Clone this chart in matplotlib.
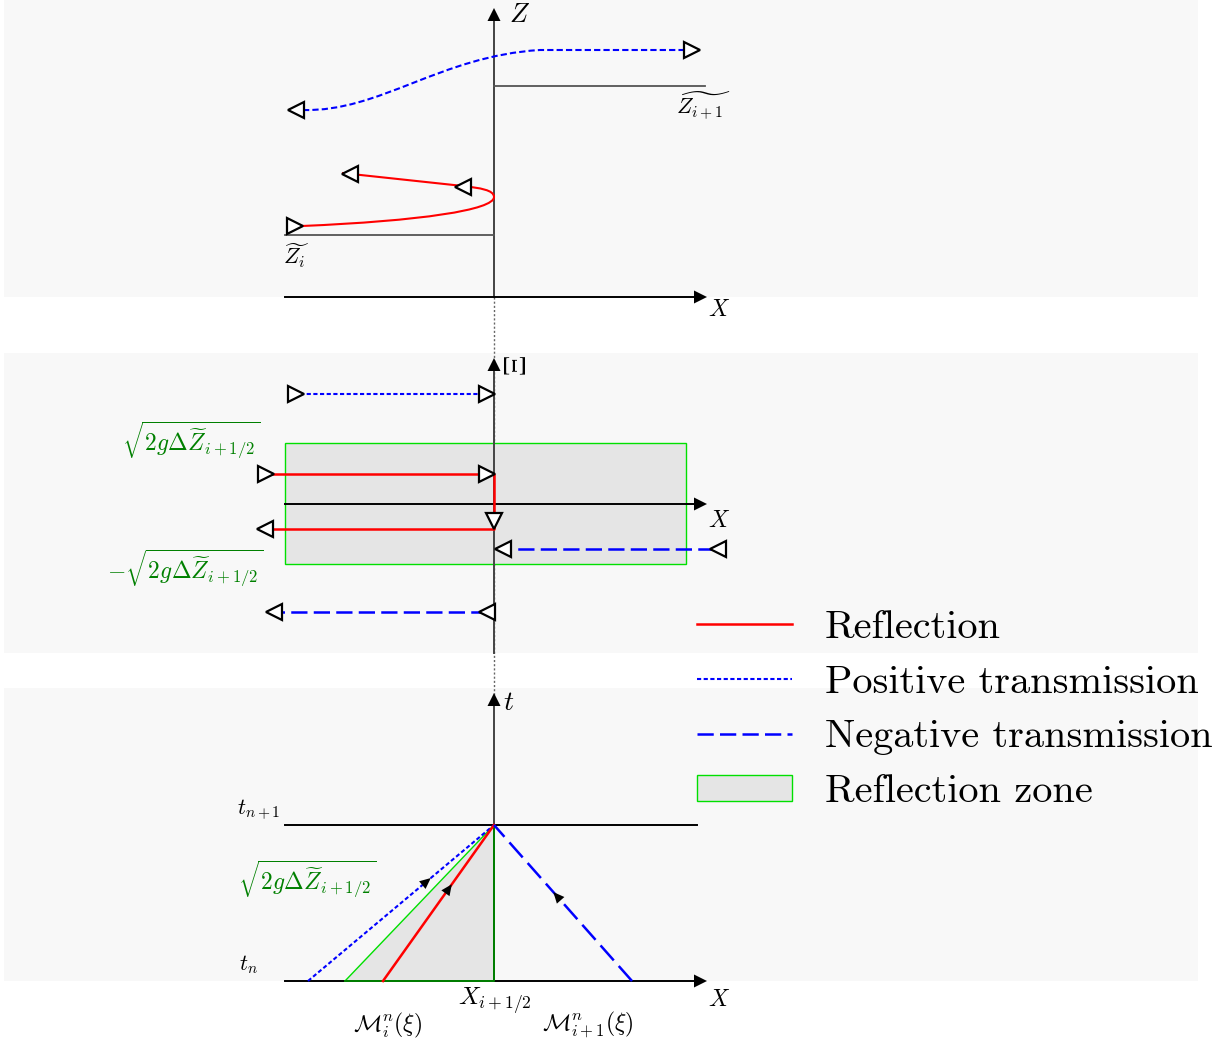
import numpy as np
import matplotlib
matplotlib.use('Agg')
import matplotlib.pyplot as plt
from matplotlib.lines import Line2D
from matplotlib.patches import Patch, Rectangle, Polygon, PathPatch
from matplotlib.path import Path

plt.rcParams['mathtext.fontset'] = 'cm'

# everything is laid out in pixel units of the 1226x1044 picture (y downwards)
W, H = 1226, 1044
panel_x = (4, 1198)
panel_rows = [(0, 297), (353, 653), (688, 981)]
x0 = 494                      # interface X_{i+1/2}
ax_left, ax_right = 285, 707  # horizontal axis extent

# top panel: levels and trajectories Z(X) (bezier nodes)
z_i, z_ip1 = 235, 86
blue_x = [303, 380, 440, 540, 687]
blue_y = [110, 112, 56, 50, 50]
red_x = [302, 420, 494, 494, 494, 480, 463, 342]
red_y = [226, 221, 210, 197, 190, 188, 186, 173]

# middle panel: Xi levels
xi_pos = 394
xi_refl_in, xi_refl_out = 474, 529
xi_neg_in, xi_neg_out = 549, 612
zone_top, zone_bot, zone_right = 443, 564, 686

# bottom panel: characteristics feet on t_n, apex on t_{n+1}
t_n, t_np1 = 981, 825
foot_pos, foot_zone, foot_refl, foot_neg = 308, 345, 383, 632

RED, BLUE, LIME, DGREEN = '#ff0000', '#0000ff', '#00e000', '#008000'
ZONE = '#e5e5e5'
dots = (0, (2, 1.2))
longdash = (0, (6.5, 2.5))

fig = plt.figure(figsize=(W / 100, H / 100), dpi=100)
ax = fig.add_axes([0, 0, 1, 1])
ax.set_xlim(0, W)
ax.set_ylim(H, 0)
ax.axis('off')


def head(tip, direction, length=13, half=6.5, color='black'):
    d = np.array(direction, float)
    d /= np.hypot(*d)
    n = np.array([-d[1], d[0]])
    tip = np.array(tip, float)
    base = tip - length * d
    ax.add_patch(Polygon([tip, base + half * n, base - half * n],
                         closed=True, color=color, lw=0, zorder=6))


def tri(x, y, m):
    ax.plot([x], [y], marker=m, ms=11, mfc='white', mec='black', mew=1.6,
            ls='none', zorder=7)


for top, bot in panel_rows:
    ax.add_patch(Rectangle((panel_x[0], top), panel_x[1] - panel_x[0], bot - top,
                           color='#f8f8f8', lw=0, zorder=0))

# dotted link between the three panels
ax.plot([x0, x0], [panel_rows[0][1], panel_rows[2][0] + 10], ls=(0, (1.5, 1.5)),
        color='#666666', lw=1, zorder=1)

# ---------------- top panel ----------------
ax.plot([x0, x0], [panel_rows[0][1], 18], color='#444444', lw=1.4, zorder=2)
head((x0, 8), (0, -1))
ax.plot([ax_left, ax_right - 12], [297, 297], color='black', lw=1.4, zorder=2)
head((ax_right, 297), (1, 0))
ax.text(520, 15, '$Z$', fontsize=19, ha='center', va='center')
ax.text(719, 309, '$X$', fontsize=17, ha='center', va='center')

ax.plot([x0, 705], [z_ip1, z_ip1], color='#555555', lw=1.3, zorder=2)
ax.plot([ax_left, x0], [z_i, z_i], color='#555555', lw=1.3, zorder=2)
ax.text(704, 106, r'$\widetilde{Z_{i+1}}$', fontsize=16, ha='center', va='center')
ax.text(296, 256, r'$\widetilde{Z_i}$', fontsize=16, ha='center', va='center')

blue_path = Path(list(zip(blue_x, blue_y)),
                 [Path.MOVETO, Path.CURVE4, Path.CURVE4, Path.CURVE4, Path.LINETO])
ax.add_patch(PathPatch(blue_path, fill=False, edgecolor=BLUE, lw=1.5,
                       ls=(0, (3, 1.5)), zorder=3))
tri(296, blue_y[0], '<')
tri(692, blue_y[-1], '>')

red_path = Path(list(zip(red_x, red_y)),
                [Path.MOVETO, Path.CURVE4, Path.CURVE4, Path.CURVE4,
                 Path.CURVE4, Path.CURVE4, Path.CURVE4, Path.LINETO])
ax.add_patch(PathPatch(red_path, fill=False, edgecolor=RED, lw=1.5, zorder=3))
tri(295, red_y[0], '>')
tri(463, 187, '<')
tri(350, 174, '<')

# ---------------- middle panel ----------------
ax.add_patch(Rectangle((ax_left, zone_top), zone_right - ax_left, zone_bot - zone_top,
                       facecolor=ZONE, edgecolor=LIME, lw=1, zorder=1))
ax.plot([x0, x0], [panel_rows[1][1], 370], color='#444444', lw=1.4, zorder=2)
head((x0, 358), (0, -1))
ax.text(517, 366, r'$\Xi$', fontsize=22, ha='center', va='center', rotation=90)
ax.plot([ax_left, ax_right - 12], [504, 504], color='black', lw=1.4, zorder=2)
head((ax_right, 504), (1, 0))
ax.text(719, 520, '$X$', fontsize=17, ha='center', va='center')

ax.plot([300, x0 - 7], [xi_pos, xi_pos], color=BLUE, lw=1.5, ls=dots, zorder=3)
tri(296, xi_pos, '>')
tri(x0 - 7, xi_pos, '>')

ax.plot([270, x0, x0, 270], [xi_refl_in, xi_refl_in, xi_refl_out, xi_refl_out],
        color=RED, lw=1.8, zorder=3)
tri(266, xi_refl_in, '>')
tri(x0 - 7, xi_refl_in, '>')
tri(x0, xi_refl_out - 8, 'v')
tri(265, xi_refl_out, '<')

ax.plot([714, x0 + 8], [xi_neg_in, xi_neg_in], color=BLUE, lw=1.8, ls=longdash, zorder=3)
tri(718, xi_neg_in, '<')
tri(x0 + 9, xi_neg_in, '<')
ax.plot([x0 - 7, 278], [xi_neg_out, xi_neg_out], color=BLUE, lw=1.8, ls=longdash, zorder=3)
tri(x0 - 7, xi_neg_out, '<')
tri(274, xi_neg_out, '<')

sq = r'\sqrt{2g\Delta\widetilde{Z}_{i+1/2}}'
ax.text(191, 440, '$' + sq + '$', fontsize=17, color=DGREEN, ha='center', va='center')
ax.text(185, 568, '$-' + sq + '$', fontsize=17, color=DGREEN, ha='center', va='center')

# ---------------- bottom panel ----------------
ax.add_patch(Polygon([(foot_zone, t_n), (x0, t_np1), (x0, t_n)], closed=True,
                     facecolor=ZONE, lw=0, zorder=1))
ax.plot([x0, x0], [t_n, 705], color='#444444', lw=1.4, zorder=2)
head((x0, 693), (0, -1))
ax.text(509, 702, '$t$', fontsize=20, ha='center', va='center')
ax.plot([ax_left, ax_right - 12], [t_n, t_n], color='black', lw=1.4, zorder=2)
head((ax_right, t_n), (1, 0))
ax.text(719, 999, '$X$', fontsize=17, ha='center', va='center')
ax.plot([ax_left, 697], [t_np1, t_np1], color='black', lw=1.4, zorder=2)

ax.plot([foot_zone, x0], [t_n, t_np1], color=LIME, lw=1, zorder=3)
ax.plot([foot_zone, x0, x0], [t_n, t_n, t_np1], color=DGREEN, lw=1.4, zorder=3)
ax.plot([foot_pos, x0], [t_n, t_np1], color=BLUE, lw=1.5, ls=dots, zorder=4)
ax.plot([foot_refl, x0], [t_n, t_np1], color=RED, lw=1.8, zorder=4)
ax.plot([foot_neg, x0], [t_n, t_np1], color=BLUE, lw=1.8, ls=(0, (8, 3)), zorder=4)

for foot, frac in [(foot_pos, 0.66), (foot_refl, 0.62), (foot_neg, 0.57)]:
    tip = (foot + (x0 - foot) * frac, t_n + (t_np1 - t_n) * frac)
    head(tip, (x0 - foot, t_np1 - t_n), length=11, half=5)

ax.text(259, 810, '$t_{n+1}$', fontsize=16, ha='center', va='center')
ax.text(248, 965, '$t_n$', fontsize=16, ha='center', va='center')
ax.text(307, 879, '$' + sq + '$', fontsize=17, color=DGREEN, ha='center', va='center')
ax.text(495, 1001, '$X_{i+1/2}$', fontsize=18, ha='center', va='center')
ax.text(388, 1025, r'$\mathcal{M}_i^n(\xi)$', fontsize=17, ha='center', va='center')
ax.text(588, 1025, r'$\mathcal{M}_{i+1}^n(\xi)$', fontsize=17, ha='center', va='center')

# ---------------- legend ----------------
handles = [Line2D([], [], color=RED, lw=1.8),
           Line2D([], [], color=BLUE, lw=1.5, ls=dots),
           Line2D([], [], color=BLUE, lw=1.8, ls=longdash),
           Patch(facecolor=ZONE, edgecolor=LIME, lw=1)]
labels = ['Reflection', 'Positive transmission', 'Negative transmission', 'Reflection zone']
ax.legend(handles, labels, loc='upper left', bbox_to_anchor=(697, 610),
          bbox_transform=ax.transData, frameon=False, borderpad=0, borderaxespad=0,
          prop={'family': 'cmr10', 'size': 29}, handlelength=2.36, handletextpad=0.82,
          handleheight=0.62, labelspacing=0.47)

fig.savefig('out.png', dpi=100)
